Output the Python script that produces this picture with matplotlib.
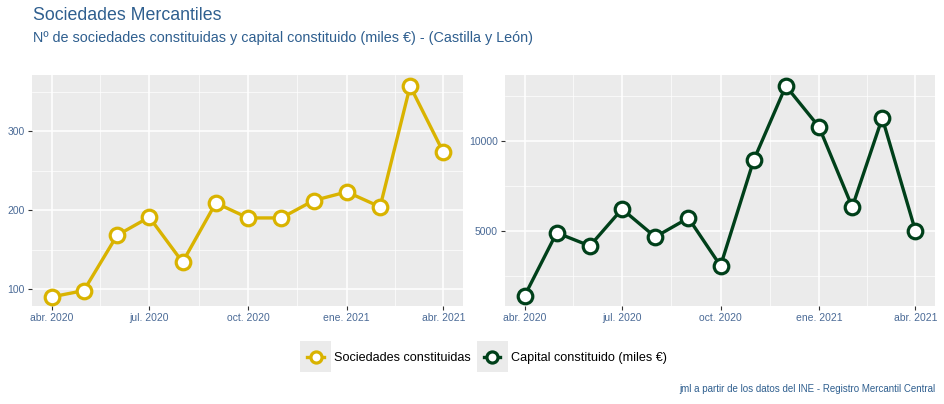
import numpy as np
import pandas as pd
import matplotlib
matplotlib.use("Agg")
import matplotlib.pyplot as plt
import matplotlib.dates as mdates
from matplotlib.legend_handler import HandlerLine2D
from matplotlib.patches import Rectangle
from matplotlib.lines import Line2D

plt.rcParams['font.family'] = ['Liberation Sans', 'DejaVu Sans']

meses = pd.date_range("2020-04-01", "2021-04-01", freq="MS")
sociedades = [90, 98, 168, 191, 134, 209, 190, 190, 212, 223, 204, 357, 273]
capital = [1390, 4900, 4170, 6220, 4670, 5720, 3060, 8940, 13060, 10780, 6330, 11280, 5000]

tick_fechas = pd.to_datetime(["2020-04-01", "2020-07-01", "2020-10-01", "2021-01-01", "2021-04-01"])
tick_labels = ["abr. 2020", "jul. 2020", "oct. 2020", "ene. 2021", "abr. 2021"]

amarillo = "#D9B300"
verde = "#00401A"
azul = "#2F5F8F"
azul_ticks = "#4A6A96"

fig = plt.figure(figsize=(9.44, 4.04), dpi=100)
ax1 = fig.add_axes([32 / 944, 98 / 404, 431 / 944, 231 / 404])
ax2 = fig.add_axes([505 / 944, 98 / 404, 430 / 944, 231 / 404])


def estilo(ax, y, color, ylim, yticks, yminor):
    ax.set_facecolor("#EBEBEB")
    for s in ax.spines.values():
        s.set_visible(False)
    xt = mdates.date2num(tick_fechas)
    ax.set_xticks(xt)
    ax.set_xticklabels(tick_labels)
    ax.set_xticks((xt[:-1] + xt[1:]) / 2, minor=True)
    ax.set_yticks(yticks)
    ax.set_yticks(yminor, minor=True)
    ax.grid(which="major", color="white", lw=1.1)
    ax.grid(which="minor", color="white", lw=0.5)
    ax.set_axisbelow(True)
    ax.tick_params(which="major", length=3, color="#333333", labelsize=7.5, labelcolor=azul_ticks, pad=2)
    ax.tick_params(which="minor", length=0)
    ax.plot(meses, y, color=color, lw=2.4, marker="o", ms=10.5, mfc="white", mec=color, mew=2.3, zorder=3)
    span = mdates.date2num(meses[-1]) - mdates.date2num(meses[0])
    ax.set_xlim(mdates.date2num(meses[0]) - 0.05 * span, mdates.date2num(meses[-1]) + 0.05 * span)
    ax.set_ylim(*ylim)


estilo(ax1, sociedades, amarillo, (78.5, 371), [100, 200, 300], [150, 250, 350])
estilo(ax2, capital, verde, (830, 13670), [5000, 10000], [2500, 7500, 12500])

fig.text(33 / 944, 1 - 16 / 404, "Sociedades Mercantiles", fontsize=12.8, color=azul, va="center")
fig.text(33 / 944, 1 - 38 / 404, "Nº de sociedades constituidas y capital constituido (miles €) - (Castilla y León)",
         fontsize=10.4, color=azul, va="center")
fig.text(935 / 944, 1 - 389 / 404, "jml a partir de los datos del INE - Registro Mercantil Central",
         fontsize=7, color=azul, ha="right", va="center")


class HandlerFondo(HandlerLine2D):
    def create_artists(self, legend, orig_handle, xdescent, ydescent, width, height, fontsize, trans):
        rect = Rectangle((-xdescent + width / 2 - 11, -ydescent + height / 2 - 11), 22, 22,
                         facecolor="#EBEBEB", edgecolor="none", transform=trans)
        arts = super().create_artists(legend, orig_handle, xdescent, ydescent, width, height, fontsize, trans)
        return [rect] + arts


h1 = Line2D([], [], color=amarillo, lw=2.4, marker="o", ms=8, mfc="white", mec=amarillo, mew=2.3)
h2 = Line2D([], [], color=verde, lw=2.4, marker="o", ms=8, mfc="white", mec=verde, mew=2.3)
fig.legend([h1, h2], ["Sociedades constituidas", "Capital constituido (miles €)"],
           loc="center", bbox_to_anchor=(487 / 944, 1 - 358 / 404), ncol=2, frameon=False,
           fontsize=9.1, handlelength=1.3, handletextpad=0.8, columnspacing=1.05,
           handler_map={h1: HandlerFondo(), h2: HandlerFondo()})

fig.savefig("out.png", dpi=100)
